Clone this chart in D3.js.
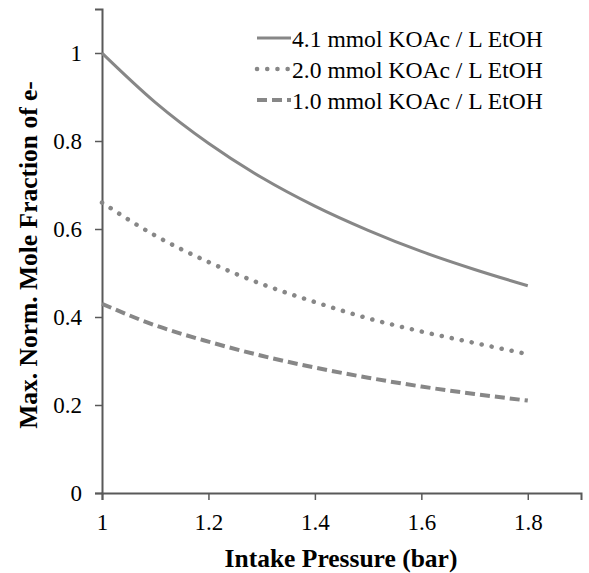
<!doctype html>
<html lang="en">
  <head>
    <meta charset="utf-8">
    <title>Intake Pressure</title>
    <style>
      body { margin: 0; background: #fff; }
    </style>
  </head>
  <body>
    <div id="chart"></div>
    <script src="https://d3js.org/d3.v7.min.js"></script>
    <script>
    // pressure points (bar)
    var pressure = [1.0, 1.1, 1.2, 1.3, 1.4, 1.5, 1.6, 1.7, 1.8];
    var pressureDotted = [1.0, 1.1, 1.2, 1.3, 1.4, 1.5, 1.6, 1.7, 1.79];

    var seriesNames = ["4.1 mmol KOAc / L EtOH", "2.0 mmol KOAc / L EtOH", "1.0 mmol KOAc / L EtOH"];
    var s41 = [1.0, 0.888, 0.795, 0.717, 0.652, 0.597, 0.549, 0.508, 0.471];
    var s20 = [0.66, 0.585, 0.525, 0.475, 0.434, 0.397, 0.367, 0.341, 0.318];
    var s10 = [0.43, 0.381, 0.344, 0.312, 0.285, 0.262, 0.242, 0.225, 0.21];

    var xTicks = [1, 1.2, 1.4, 1.6, 1.8];
    var yTicks = [0, 0.2, 0.4, 0.6, 0.8, 1];

    var FONT = "Liberation Serif, Times New Roman, serif";
    var W = 589, H = 573;
    var svg = d3.select("#chart").append("svg")
        .attr("width", W)
        .attr("height", H)
        .attr("font-family", FONT);

    var x = d3.scaleLinear().domain([1, 1.9]).range([102, 581]);
    var y = d3.scaleLinear().domain([0, 1.1]).range([493, 9]);

    var axisColor = "#595959";
    var lineColor = "#878787";

    // y axis
    var gy = svg.append("g")
        .attr("transform", "translate(" + x(1) + ",0)")
        .call(d3.axisLeft(y).tickValues(yTicks).tickSize(7).tickPadding(13)
          .tickFormat(function(d){ return d3.format("~g")(d); }));
    gy.attr("font-family", FONT).attr("font-size", 23);
    gy.select(".domain").attr("stroke", axisColor).attr("stroke-width", 2);
    gy.selectAll(".tick line").attr("stroke", axisColor).attr("stroke-width", 1.5);
    gy.selectAll(".tick text").attr("fill", "#000");

    // x axis
    var gx = svg.append("g")
        .attr("transform", "translate(0," + y(0) + ")")
        .call(d3.axisBottom(x).tickValues(xTicks).tickSize(7).tickPadding(14)
          .tickFormat(function(d){ return d3.format("~g")(d); }));
    gx.attr("font-family", FONT).attr("font-size", 23);
    gx.select(".domain").attr("stroke", axisColor).attr("stroke-width", 2);
    gx.selectAll(".tick line").attr("stroke", axisColor).attr("stroke-width", 1.5);
    gx.selectAll(".tick text").attr("fill", "#000");

    // titles
    svg.append("text")
      .attr("x", 341).attr("y", 567)
      .attr("text-anchor", "middle")
      .attr("font-size", 25.5).attr("font-weight", "bold")
      .text("Intake Pressure (bar)");

    svg.append("text")
      .attr("transform", "translate(37,255) rotate(-90)")
      .attr("text-anchor", "middle")
      .attr("font-size", 25.5).attr("font-weight", "bold")
      .text("Max. Norm. Mole Fraction of e-");

    var line = d3.line()
        .x(function(d){ return x(d[0]); })
        .y(function(d){ return y(d[1]); })
        .curve(d3.curveMonotoneX);

    var styles = [
      { dash: null, width: 3, cap: "butt" },
      { dash: "0.1,10.1", width: 4.5, cap: "round" },
      { dash: "10,5", width: 4, cap: "butt" }
    ];
    var series = [
      d3.zip(pressure, s41),
      d3.zip(pressureDotted, s20),
      d3.zip(pressure, s10)
    ];

    series.forEach(function(s, i){
      svg.append("path")
        .datum(s)
        .attr("d", line)
        .attr("fill", "none")
        .attr("stroke", lineColor)
        .attr("stroke-width", styles[i].width)
        .attr("stroke-linecap", styles[i].cap)
        .attr("stroke-dasharray", styles[i].dash);
    });

    // legend
    var legend = svg.append("g");
    seriesNames.forEach(function(name, i){
      var ly = 38 + i * 31;
      legend.append("line")
        .attr("x1", 257).attr("x2", 291)
        .attr("y1", ly).attr("y2", ly)
        .attr("stroke", lineColor)
        .attr("stroke-width", styles[i].width)
        .attr("stroke-linecap", styles[i].cap)
        .attr("stroke-dasharray", styles[i].dash);
      legend.append("text")
        .attr("x", 292).attr("y", ly + 8.5)
        .attr("font-size", 23.6)
        .text(name);
    });
    </script>
  </body>
</html>
